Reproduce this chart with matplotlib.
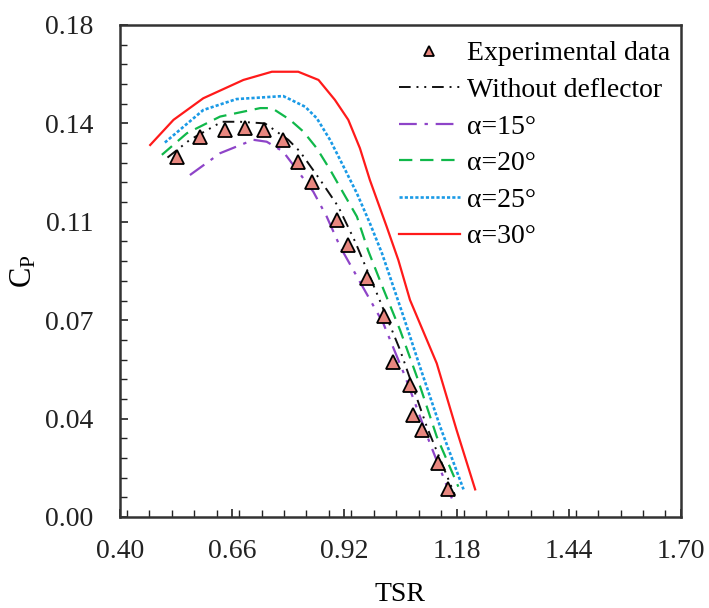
import numpy as np
import matplotlib
matplotlib.use("Agg")
import matplotlib.pyplot as plt
from matplotlib.ticker import FixedLocator, MultipleLocator, FormatStrFormatter

plt.rcParams['font.family'] = ['Liberation Serif', 'DejaVu Serif']
plt.rcParams['mathtext.fontset'] = 'custom'
plt.rcParams['mathtext.rm'] = 'Liberation Serif'
plt.rcParams['mathtext.it'] = 'Liberation Serif:italic'

# Experimental data
exp_x = [0.531, 0.585, 0.643, 0.690, 0.734, 0.777, 0.812, 0.846, 0.902, 0.929,
         0.972, 1.012, 1.033, 1.072, 1.080, 1.099, 1.138, 1.161]
exp_y = [0.1318, 0.1390, 0.1416, 0.1422, 0.1416, 0.1379, 0.1300, 0.1227, 0.1087, 0.0995,
         0.0874, 0.0735, 0.0568, 0.0483, 0.0373, 0.0318, 0.0196, 0.0101]

# Without deflector
base_x = [0.510, 0.562, 0.636, 0.678, 0.736, 0.790, 0.817, 0.864, 0.906, 0.945, 1.000, 1.049, 1.111, 1.176]
base_y = [0.1315, 0.1380, 0.1446, 0.1446, 0.1440, 0.1380, 0.1337, 0.1233, 0.1135, 0.1007, 0.0800, 0.0611, 0.0330, 0.0080]

# alpha = 15
a15_x = [0.562, 0.632, 0.709, 0.740, 0.778, 0.810, 0.848, 0.879, 0.910, 1.010, 1.061, 1.118, 1.169]
a15_y = [0.1251, 0.1331, 0.1380, 0.1373, 0.1337, 0.1270, 0.1190, 0.1099, 0.0989, 0.0709, 0.0513, 0.0270, 0.0068]

# alpha = 20
a20_x = [0.497, 0.555, 0.632, 0.725, 0.752, 0.794, 0.825, 0.856, 0.887, 0.918, 0.949, 0.975, 1.010, 1.049, 1.088, 1.134, 1.184]
a20_y = [0.1325, 0.1404, 0.1465, 0.1496, 0.1496, 0.1453, 0.1410, 0.1349, 0.1270, 0.1184, 0.1099, 0.0975, 0.0835, 0.0684, 0.0513, 0.0294, 0.0111]

# alpha = 25
a25_x = [0.504, 0.593, 0.670, 0.778, 0.794, 0.829, 0.856, 0.887, 0.918, 0.949, 0.979, 1.007, 1.057, 1.095, 1.142, 1.196]
a25_y = [0.1370, 0.1489, 0.1529, 0.1540, 0.1528, 0.1501, 0.1459, 0.1379, 0.1282, 0.1184, 0.1075, 0.0965, 0.0733, 0.0550, 0.0330, 0.0101]

# alpha = 30
a30_x = [0.470, 0.524, 0.593, 0.686, 0.752, 0.813, 0.860, 0.898, 0.929, 0.956, 0.979, 1.018, 1.045, 1.072, 1.103, 1.134, 1.180, 1.223]
a30_y = [0.1361, 0.1453, 0.1532, 0.1599, 0.1629, 0.1629, 0.1599, 0.1526, 0.1453, 0.1349, 0.1233, 0.1062, 0.0940, 0.0794, 0.0678, 0.0562, 0.0318, 0.0101]

x_ticks = [0.40, 0.66, 0.92, 1.18, 1.44, 1.70]
y_ticks = [0.0, 0.036, 0.072, 0.108, 0.144, 0.18]

fig = plt.figure(figsize=(7.09, 6.08), dpi=100)
ax = fig.add_axes([120/709, 1-517/608, 561/709, 492/608])

lw = 1.6
ax.plot(a30_x, a30_y, color='#FF1A1A', lw=lw, ls='-', label='α=30°', zorder=2)
ax.plot(a25_x, a25_y, color='#1A9AE6', lw=lw + 0.3, ls=(0, (1.2, 0.8)), label='α=25°', zorder=2)
ax.plot(a20_x, a20_y, color='#10B84A', lw=lw, ls=(0, (6, 3.5)), label='α=20°', zorder=2)
ax.plot(a15_x, a15_y, color='#8E44C8', lw=lw, ls=(0, (8, 3.5, 1.5, 3.5)), label='α=15°', zorder=2)
ax.plot(base_x, base_y, color='#111111', lw=lw - 0.2, ls=(0, (6, 3, 1, 3, 1, 3)), label='Without deflector', zorder=2)
ax.plot(exp_x, exp_y, ls='none', marker='^', ms=10, mfc='#E8877F', mec='black', mew=1.3,
        label='Experimental data', zorder=3)

ax.set_xlim(0.40, 1.70)
ax.set_ylim(0.0, 0.18)
ax.xaxis.set_major_locator(FixedLocator(x_ticks))
ax.yaxis.set_major_locator(FixedLocator(y_ticks))
ax.xaxis.set_minor_locator(MultipleLocator(0.052))
ax.yaxis.set_minor_locator(MultipleLocator(0.0072))
ax.xaxis.set_major_formatter(FormatStrFormatter('%.2f'))
ax.yaxis.set_major_formatter(FormatStrFormatter('%.2f'))
ax.tick_params(axis='both', which='both', direction='in', top=False, right=False,
               labelsize=20, colors='#222222', labelcolor='#222222')
ax.tick_params(axis='both', which='major', length=6, width=1.2)
ax.tick_params(axis='both', which='minor', length=5, width=1.0)
ax.tick_params(axis='x', which='major', pad=16)
ax.tick_params(axis='y', which='major', pad=19)
for s in ax.spines.values():
    s.set_linewidth(1.8)
    s.set_color('#333333')

ax.set_xlabel('TSR', fontsize=20)
ax.set_ylabel(r'C$_{\mathrm{P}}$', fontsize=22)
ax.xaxis.set_label_coords(0.499, -0.132)
ax.yaxis.set_label_coords(-0.145, 0.5)

handles, labels = ax.get_legend_handles_labels()
order = [5, 4, 3, 2, 1, 0]
leg = ax.legend([handles[i] for i in order], [labels[i] for i in order],
                loc='upper right', frameon=False, fontsize=20,
                handlelength=2.2, handletextpad=0.25, labelspacing=0.4,
                borderaxespad=0.0, bbox_to_anchor=(1.0, 0.99), markerscale=0.7)

fig.savefig('out.png', dpi=100)
